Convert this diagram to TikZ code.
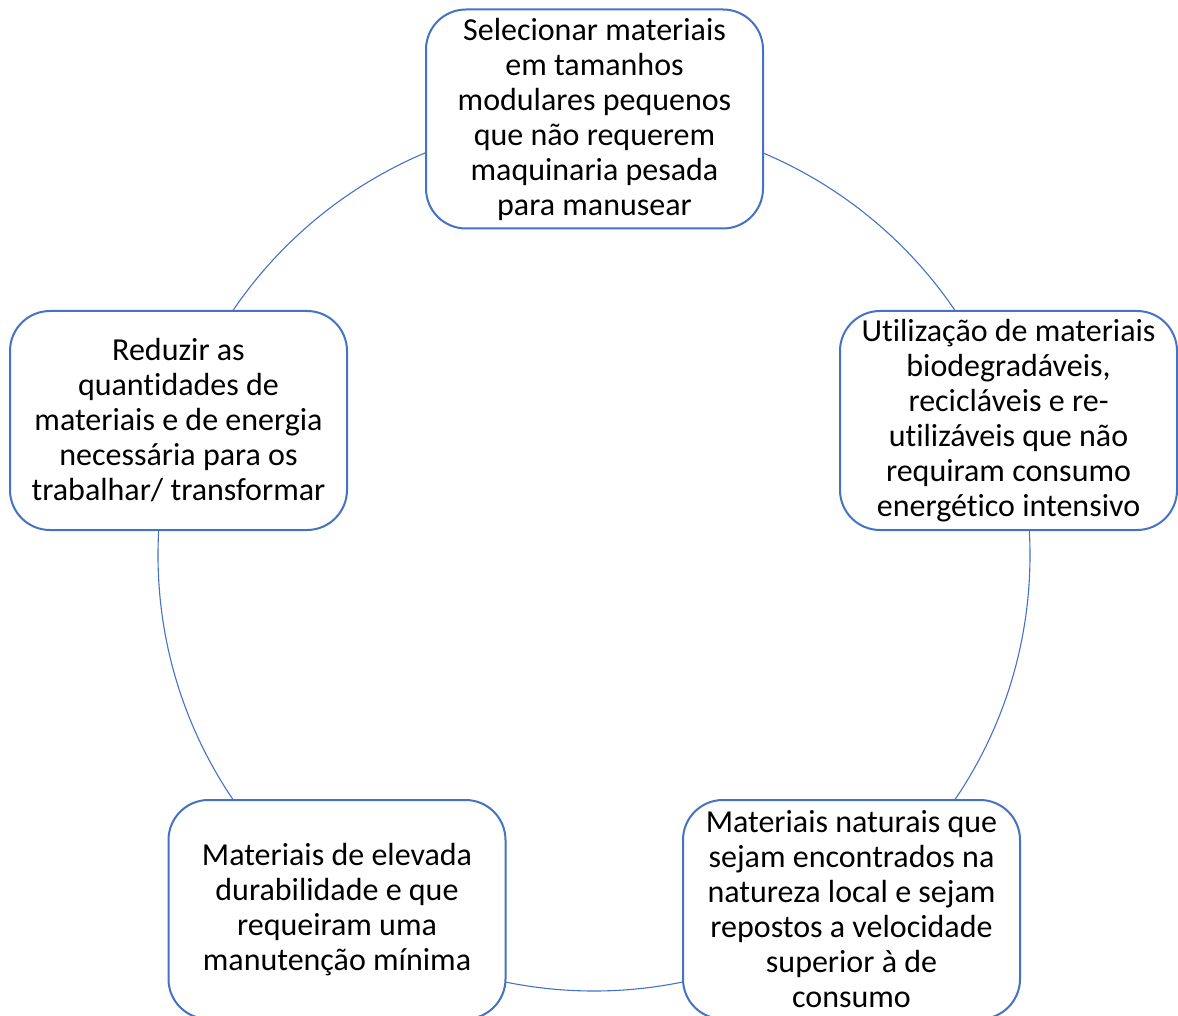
\documentclass[tikz,border=0pt]{standalone}
\usepackage{fontspec}
\setmainfont[Ligatures={NoCommon}]{Carlito}
\definecolor{boxblue}{HTML}{4472C4}
\begin{document}
\begin{tikzpicture}[x=1pt,y=1pt,
  item/.style={draw=boxblue, line width=2pt, fill=white, rounded corners=40pt,
    minimum width=337pt, minimum height=219pt, inner sep=0pt, align=center,
    font=\fontsize{32}{35}\selectfont, text=black},
  ring/.style={draw=boxblue, line width=1.1pt}]
\useasboundingbox (0,0) rectangle (1178,-1016);
\coordinate (c) at (594,-555);
\draw[ring] (c) circle (436);
\node[item] (top) at (594.5,-119) {Selecionar materiais\\em tamanhos\\modulares pequenos\\que não requerem\\maquinaria pesada\\para manusear};
\node[item] (right) at (1008.5,-420.5) {Utilização de materiais\\biodegradáveis,\\recicláveis e re-\\utilizáveis que não\\requiram consumo\\energético intensivo};
\node[item] (bright) at (851.5,-909.5) {Materiais naturais que\\sejam encontrados na\\natureza local e sejam\\repostos a velocidade\\superior à de\\consumo};
\node[item] (bleft) at (337,-909.5) {Materiais de elevada\\durabilidade e que\\requeiram uma\\manutenção mínima};
\node[item] (left) at (178.5,-420.5) {Reduzir as\\quantidades de\\materiais e de energia\\necessária para os\\trabalhar/ transformar};
\end{tikzpicture}
\end{document}
